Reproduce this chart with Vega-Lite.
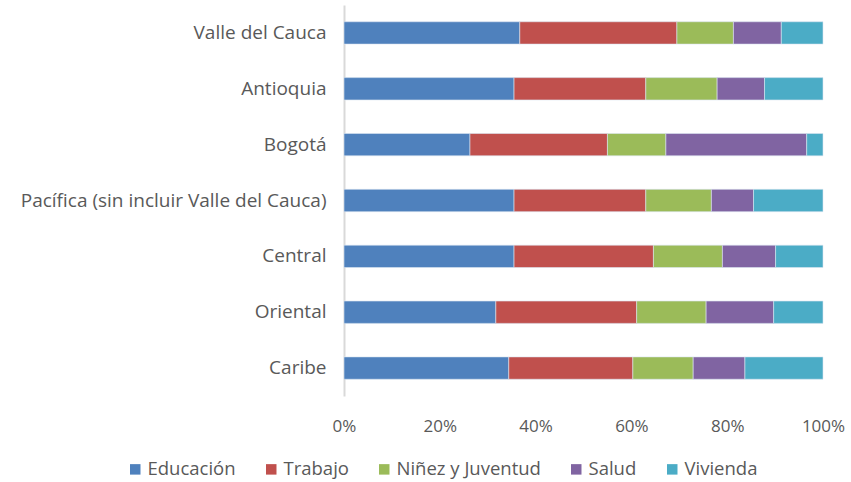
{
  "$schema": "https://vega.github.io/schema/vega-lite/v6.json",
  "autosize": "none",
  "width": 479,
  "height": 391,
  "padding": {"left": 344, "top": 5, "right": 28, "bottom": 86},
  "background": "white",
  "config": {"view": {"stroke": null}, "font": "Open Sans"},
  "data": {"values": [
    {"region": "Valle del Cauca", "categoria": "Educación", "orden": 1, "valor": 36.7},
    {"region": "Valle del Cauca", "categoria": "Trabajo", "orden": 2, "valor": 32.8},
    {"region": "Valle del Cauca", "categoria": "Niñez y Juventud", "orden": 3, "valor": 11.8},
    {"region": "Valle del Cauca", "categoria": "Salud", "orden": 4, "valor": 10.0},
    {"region": "Valle del Cauca", "categoria": "Vivienda", "orden": 5, "valor": 8.7},
    {"region": "Antioquia", "categoria": "Educación", "orden": 1, "valor": 35.5},
    {"region": "Antioquia", "categoria": "Trabajo", "orden": 2, "valor": 27.5},
    {"region": "Antioquia", "categoria": "Niñez y Juventud", "orden": 3, "valor": 14.9},
    {"region": "Antioquia", "categoria": "Salud", "orden": 4, "valor": 9.9},
    {"region": "Antioquia", "categoria": "Vivienda", "orden": 5, "valor": 12.2},
    {"region": "Bogotá", "categoria": "Educación", "orden": 1, "valor": 26.3},
    {"region": "Bogotá", "categoria": "Trabajo", "orden": 2, "valor": 28.7},
    {"region": "Bogotá", "categoria": "Niñez y Juventud", "orden": 3, "valor": 12.2},
    {"region": "Bogotá", "categoria": "Salud", "orden": 4, "valor": 29.4},
    {"region": "Bogotá", "categoria": "Vivienda", "orden": 5, "valor": 3.4},
    {"region": "Pacífica (sin incluir Valle del Cauca)", "categoria": "Educación", "orden": 1, "valor": 35.5},
    {"region": "Pacífica (sin incluir Valle del Cauca)", "categoria": "Trabajo", "orden": 2, "valor": 27.5},
    {"region": "Pacífica (sin incluir Valle del Cauca)", "categoria": "Niñez y Juventud", "orden": 3, "valor": 13.7},
    {"region": "Pacífica (sin incluir Valle del Cauca)", "categoria": "Salud", "orden": 4, "valor": 8.8},
    {"region": "Pacífica (sin incluir Valle del Cauca)", "categoria": "Vivienda", "orden": 5, "valor": 14.5},
    {"region": "Central", "categoria": "Educación", "orden": 1, "valor": 35.5},
    {"region": "Central", "categoria": "Trabajo", "orden": 2, "valor": 29.1},
    {"region": "Central", "categoria": "Niñez y Juventud", "orden": 3, "valor": 14.4},
    {"region": "Central", "categoria": "Salud", "orden": 4, "valor": 11.1},
    {"region": "Central", "categoria": "Vivienda", "orden": 5, "valor": 9.9},
    {"region": "Oriental", "categoria": "Educación", "orden": 1, "valor": 31.7},
    {"region": "Oriental", "categoria": "Trabajo", "orden": 2, "valor": 29.4},
    {"region": "Oriental", "categoria": "Niñez y Juventud", "orden": 3, "valor": 14.5},
    {"region": "Oriental", "categoria": "Salud", "orden": 4, "valor": 14.1},
    {"region": "Oriental", "categoria": "Vivienda", "orden": 5, "valor": 10.3},
    {"region": "Caribe", "categoria": "Educación", "orden": 1, "valor": 34.4},
    {"region": "Caribe", "categoria": "Trabajo", "orden": 2, "valor": 25.9},
    {"region": "Caribe", "categoria": "Niñez y Juventud", "orden": 3, "valor": 12.6},
    {"region": "Caribe", "categoria": "Salud", "orden": 4, "valor": 10.8},
    {"region": "Caribe", "categoria": "Vivienda", "orden": 5, "valor": 16.3}
  ]},
  "mark": {"type": "bar", "stroke": "#dbe6f2", "strokeWidth": 0.6},
  "encoding": {
    "y": {
      "field": "region", "type": "nominal",
      "sort": ["Valle del Cauca", "Antioquia", "Bogotá", "Pacífica (sin incluir Valle del Cauca)", "Central", "Oriental", "Caribe"],
      "scale": {"paddingInner": 0.6, "paddingOuter": 0.3},
      "axis": {"title": null, "ticks": false, "domainColor": "#d9d9d9", "domainWidth": 2, "labelFontSize": 19, "labelColor": "#595959", "labelPadding": 18, "labelLimit": 400}
    },
    "x": {
      "field": "valor", "type": "quantitative", "stack": "zero",
      "scale": {"domain": [0, 100], "nice": false},
      "axis": {"title": null, "values": [0, 20, 40, 60, 80, 100], "labelExpr": "datum.value + '%'", "grid": false, "domain": false, "ticks": false, "labelFontSize": 17, "labelColor": "#595959", "labelPadding": 22, "labelFlush": false}
    },
    "color": {
      "field": "categoria", "type": "nominal",
      "sort": ["Educación", "Trabajo", "Niñez y Juventud", "Salud", "Vivienda"],
      "scale": {"domain": ["Educación", "Trabajo", "Niñez y Juventud", "Salud", "Vivienda"], "range": ["#4F81BD", "#C0504D", "#9BBB59", "#8064A2", "#4BACC6"]},
      "legend": {"title": null, "orient": "none", "direction": "horizontal", "legendX": -218, "legendY": 455, "symbolType": "square", "symbolSize": 110, "symbolStrokeWidth": 0, "labelFontSize": 18.5, "labelColor": "#595959", "columnPadding": 26, "labelOffset": 3}
    },
    "order": {"field": "orden", "type": "quantitative"}
  }
}
